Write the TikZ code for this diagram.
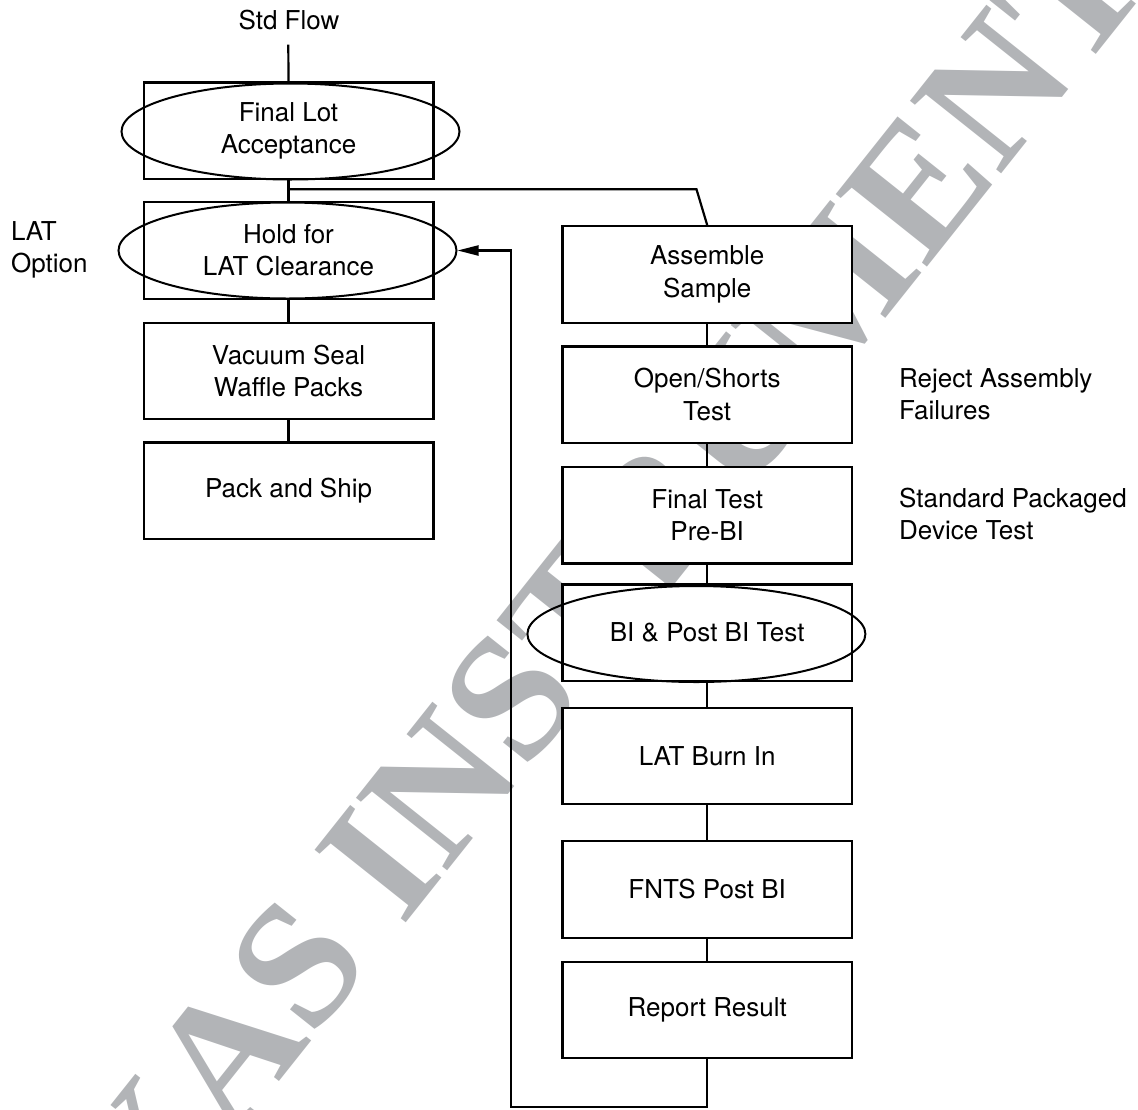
\documentclass[tikz,border=0pt]{standalone}
\usepackage{fontspec}
\setmainfont{TeX Gyre Heros}
\newfontfamily\markfont{Liberation Serif}
\usetikzlibrary{arrows.meta,calc,shapes.geometric}
\definecolor{markgray}{RGB}{178,180,183}

\begin{document}
\begin{tikzpicture}[x=1pt,y=-1pt,
  txt/.style={font=\fontsize{26}{32.5}\selectfont},
  stepbox/.style={txt, draw, line width=2.3pt, fill=white, minimum width=289.7pt,
    minimum height=96.5pt, inner sep=0pt, align=center},
  oval/.style={draw, ellipse, line width=2pt, minimum width=338pt,
    minimum height=96pt, inner sep=0pt},
  link/.style={line width=2.2pt},
  note/.style={txt, align=left, anchor=west, inner sep=0pt},
]
\useasboundingbox (0,0) rectangle (1138,1109);

% background watermark
\begin{scope}
  \clip (0,0) rectangle (1138,1109);
  \node[anchor=base west, rotate=51.5, text=markgray, inner sep=0pt,
    font=\markfont\bfseries\fontsize{178}{178}\selectfont] (mark) at (5,1426.6) {TEXAS INSTRUMENTS};
\end{scope}

% standard flow (left column)
\node[txt, inner sep=0pt] (std) at (289,20) {Std Flow};
\node[stepbox] (b1) at (288.5,130.8) {Final Lot\\Acceptance};
\node[stepbox] (b2) at (288.5,250.4) {Hold for\\LAT Clearance};
\node[stepbox] (b3) at (288.5,370.9) {Vacuum Seal\\Waffle Packs};
\node[stepbox] (b4) at (288.5,490.6) {Pack and Ship};
\node[oval] (e1) at (290.5,131.5) {};
\node[oval] (e2) at (287.5,250.5) {};

% LAT sample flow (right column)
\node[stepbox] (r1) at (707.2,274.5) {Assemble\\Sample};
\node[stepbox] (r2) at (707.2,394.7) {Open/Shorts\\Test};
\node[stepbox] (r3) at (707.2,515.1) {Final Test\\Pre-BI};
\node[stepbox] (r4) at (707.2,632.6) {BI \& Post BI Test};
\node[stepbox] (r5) at (707.2,756) {LAT Burn In};
\node[stepbox] (r6) at (707.2,889.5) {FNTS Post BI};
\node[stepbox] (r7) at (707.2,1010) {Report Result};
\node[oval] (e3) at (696.4,634) {};

% side notes
\node[note] (opt) at (10.9,250) {LAT\\Option};
\node[note] (rej) at (899,394) {Reject Assembly\\Failures};
\node[note] (std2) at (899,514) {Standard Packaged\\Device Test};

% connectors
\coordinate (top) at (288.3,44.6);
\coordinate (split) at (288.3,189.3);
\coordinate (bend) at (696.5,189.3);
\coordinate (lb) at (707.2,1106.8);
\coordinate (lc) at (510.6,1106.8);
\coordinate (ld) at (510.6,250.5);

\draw[link] (top) -- (b1.north);
\draw[link] (b1.south) -- (b2.north);
\draw[link] (split) -- (bend) -- (r1.north);
\draw[link] (b2.south) -- (b3.north);
\draw[link] (b3.south) -- (b4.north);
\draw[link] (r1.south) -- (r2.north);
\draw[link] (r2.south) -- (r3.north);
\draw[link] (r3.south) -- (r4.north);
\draw[link] (r4.south) -- (r5.north);
\draw[link] (r5.south) -- (r6.north);
\draw[link] (r6.south) -- (r7.north);
\draw[link, -{Triangle[length=21pt,width=10pt]}] (r7.south) -- (lb) -- (lc) -- (ld) -- (e2.east);
\end{tikzpicture}
\end{document}
